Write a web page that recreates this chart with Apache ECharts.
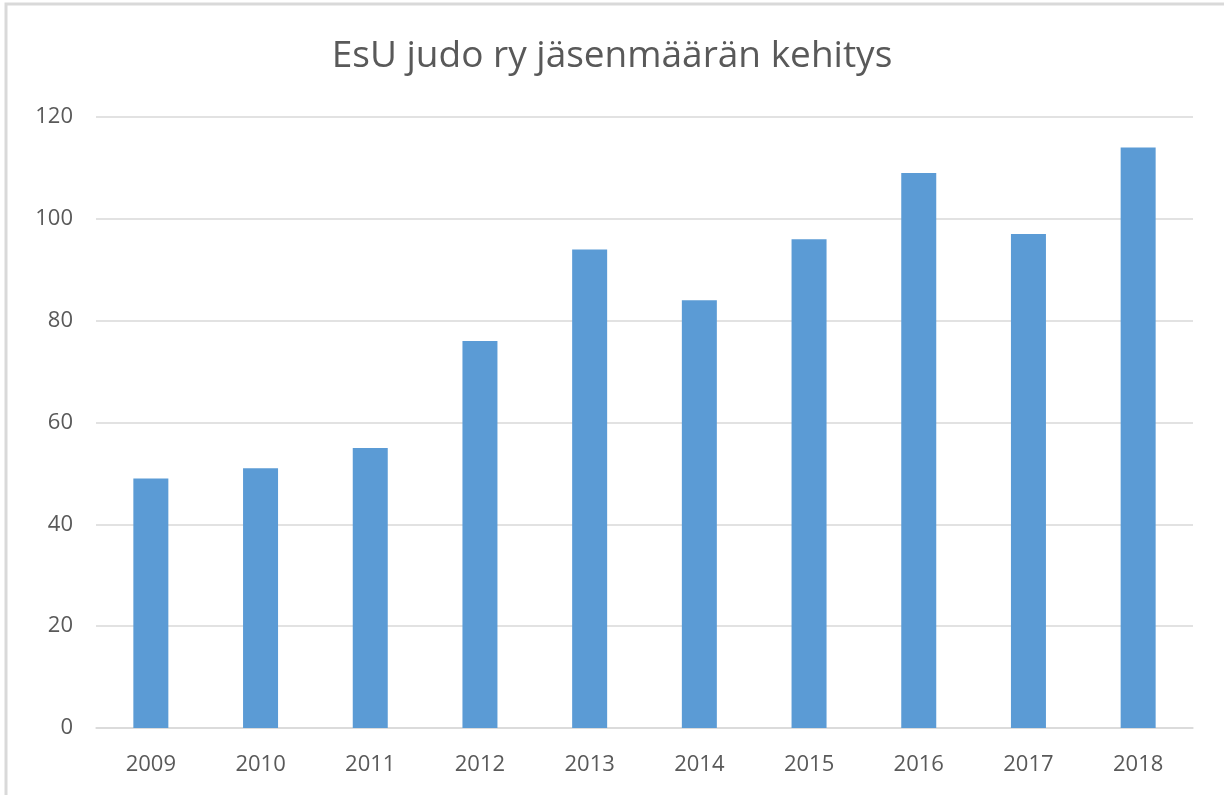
<!DOCTYPE html>
<html>
<head>
<meta charset="utf-8">
<script src="https://cdn.jsdelivr.net/npm/echarts@6/dist/echarts.min.js"></script>
<style>
    html, body {margin: 0; padding: 0; background: #fff;}
    #main {width: 1224px; height: 795px;}
</style>
</head>
<body>
<div id="main"></div>
<script>
    // 数据
    var years = ['2009', '2010', '2011', '2012', '2013', '2014', '2015', '2016', '2017', '2018'];
    var members = [49, 51, 55, 76, 94, 84, 96, 109, 97, 114];
    var yTicks = [0, 20, 40, 60, 80, 100, 120];

    var myChart = echarts.init(document.getElementById('main'));

    var option = {
        animation: false,
        backgroundColor: '#fff',
        title: {
            text: 'EsU judo ry jäsenmäärän kehitys',
            left: 'center',
            top: 33,
            textStyle: {
                color: '#595959',
                fontWeight: 'normal',
                fontFamily: 'Open Sans',
                fontSize: 37
            }
        },
        graphic: [{
            type: 'rect',
            shape: {x: 6, y: 4, width: 1300, height: 900},
            style: {fill: 'none', stroke: '#D9D9D9', lineWidth: 3}
        }],
        grid: {
            left: 96,
            right: 31,
            top: 117,
            bottom: 67
        },
        xAxis: {
            type: 'category',
            data: years,
            axisTick: {show: false},
            axisLine: {lineStyle: {color: '#D9D9D9', width: 1.5}},
            axisLabel: {
                color: '#595959',
                fontSize: 22,
                fontFamily: 'Open Sans',
                margin: 26
            }
        },
        yAxis: {
            type: 'value',
            min: yTicks[0],
            max: yTicks[yTicks.length - 1],
            interval: 20,
            axisLine: {show: false},
            axisTick: {show: false},
            splitLine: {lineStyle: {color: '#D9D9D9', width: 1.5}},
            axisLabel: {
                color: '#595959',
                fontSize: 22,
                fontFamily: 'Open Sans',
                margin: 23
            }
        },
        series: [{
            type: 'bar',
            data: members,
            barWidth: 35,
            itemStyle: {color: '#5B9BD5'}
        }]
    };

    myChart.setOption(option);
</script>
</body>
</html>
